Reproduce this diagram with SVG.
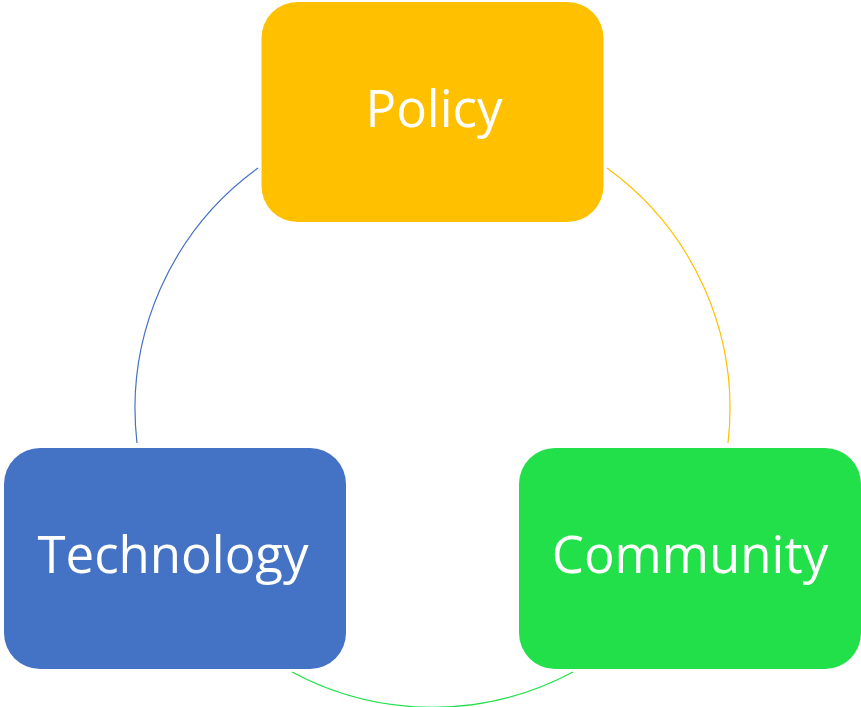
<svg xmlns="http://www.w3.org/2000/svg" width="861" height="707" viewBox="0 0 861 707">
<style>
.lbl{font-family:"Open Sans","Noto Sans",sans-serif;font-size:51px;fill:#ffffff;text-anchor:middle}
.arc{fill:none;stroke-width:1.2}
</style>
<rect width="861" height="707" fill="#ffffff"/>
<g id="connectors">
<path class="arc" stroke="#4472C4" d="M 258 168 A 297.5 297.5 0 0 0 137 443"/>
<path class="arc" stroke="#FFC000" d="M 607 168 A 297.5 297.5 0 0 1 728 443"/>
<path class="arc" stroke="#22E04A" d="M 292 672 A 297.5 297.5 0 0 0 573 672"/>
</g>
<g id="policy">
<rect x="261.5" y="2" width="342" height="220" rx="36" fill="#FFC000"/>
<text class="lbl" x="434" y="127">Policy</text>
</g>
<g id="technology">
<rect x="4" y="448" width="342" height="221" rx="36" fill="#4472C4"/>
<text class="lbl" x="173" y="573">Technology</text>
</g>
<g id="community">
<rect x="519" y="448" width="342" height="221" rx="36" fill="#22E04A"/>
<text class="lbl" x="690" y="573">Community</text>
</g>
</svg>
